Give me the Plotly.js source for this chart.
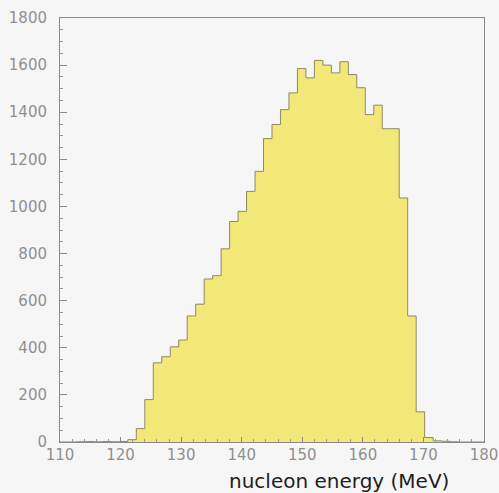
<!DOCTYPE html>
<html>
<head>
<meta charset="utf-8">
<script src="https://cdn.plot.ly/plotly-3.0.1.min.js"></script>
<style>
  html, body { margin: 0; padding: 0; background: #f6f6f6; }
  #chart { width: 499px; height: 493px; }
</style>
</head>
<body>
<div id="chart"></div>
<script>
// Nucleon energy spectrum: 50 bins of 1.4 MeV from 110 to 180 MeV
const binLow = 110;
const binWidth = 1.4;
const counts = [
  0, 0, 1, 2, 1, 2, 1, 2, 10, 57,
  180, 336, 362, 404, 433, 535, 585, 692, 706, 820,
  936, 979, 1064, 1149, 1288, 1348, 1411, 1482, 1585, 1546,
  1620, 1600, 1567, 1614, 1560, 1504, 1390, 1430, 1330, 1330,
  1036, 535, 128, 19, 5, 3, 1, 0, 0, 0
];
const xTickVals = [110, 120, 130, 140, 150, 160, 170, 180];
const yTickVals = [0, 200, 400, 600, 800, 1000, 1200, 1400, 1600, 1800];
const xTitle = 'nucleon energy (MeV)';

// step outline: one point per bin edge, last count repeated to close the final bin
const edges = counts.map((_, i) => +(binLow + i * binWidth).toFixed(2));
edges.push(+(binLow + counts.length * binWidth).toFixed(2));
const stepY = counts.concat([counts[counts.length - 1]]);

const trace = {
  type: 'scatter',
  mode: 'lines',
  x: edges,
  y: stepY,
  line: { shape: 'hv', color: '#8f8966', width: 1 },
  fill: 'tozeroy',
  fillcolor: '#f1e878',
  hoverinfo: 'skip'
};

const tickFont = { family: '"DejaVu Sans", sans-serif', size: 15, color: '#909090' };

const layout = {
  width: 499,
  height: 493,
  margin: { l: 60, r: 15, t: 18, b: 51 },
  paper_bgcolor: '#f6f6f6',
  plot_bgcolor: '#f6f6f6',
  showlegend: false,
  xaxis: {
    range: [110, 180],
    tickmode: 'array',
    tickvals: xTickVals,
    ticks: 'inside',
    ticklen: 5,
    tickcolor: '#8a8a8a',
    tickwidth: 1,
    minor: { dtick: 2, ticks: 'inside', ticklen: 3, tickcolor: '#9a9a9a', showgrid: false },
    showline: true,
    linecolor: '#8a8a8a',
    linewidth: 1,
    mirror: true,
    showgrid: false,
    zeroline: false,
    tickfont: tickFont,
    ticklabelstandoff: -1
  },
  yaxis: {
    range: [0, 1800],
    tickmode: 'array',
    tickvals: yTickVals,
    ticks: 'inside',
    ticklen: 7,
    tickcolor: '#8a8a8a',
    tickwidth: 1,
    minor: { dtick: 50, ticks: 'inside', ticklen: 3, tickcolor: '#9a9a9a', showgrid: false },
    showline: true,
    linecolor: '#8a8a8a',
    linewidth: 1,
    mirror: true,
    showgrid: false,
    zeroline: false,
    tickfont: tickFont,
    ticklabelstandoff: 9
  },
  annotations: [{
    text: xTitle,
    xref: 'paper', yref: 'paper',
    x: 0.921, y: 0, yshift: -39,
    xanchor: 'right', yanchor: 'middle',
    showarrow: false,
    font: { family: '"DejaVu Sans", sans-serif', size: 20, color: '#1e1e1e' }
  }]
};

Plotly.newPlot('chart', [trace], layout, { displayModeBar: false, staticPlot: true });
</script>
</body>
</html>
